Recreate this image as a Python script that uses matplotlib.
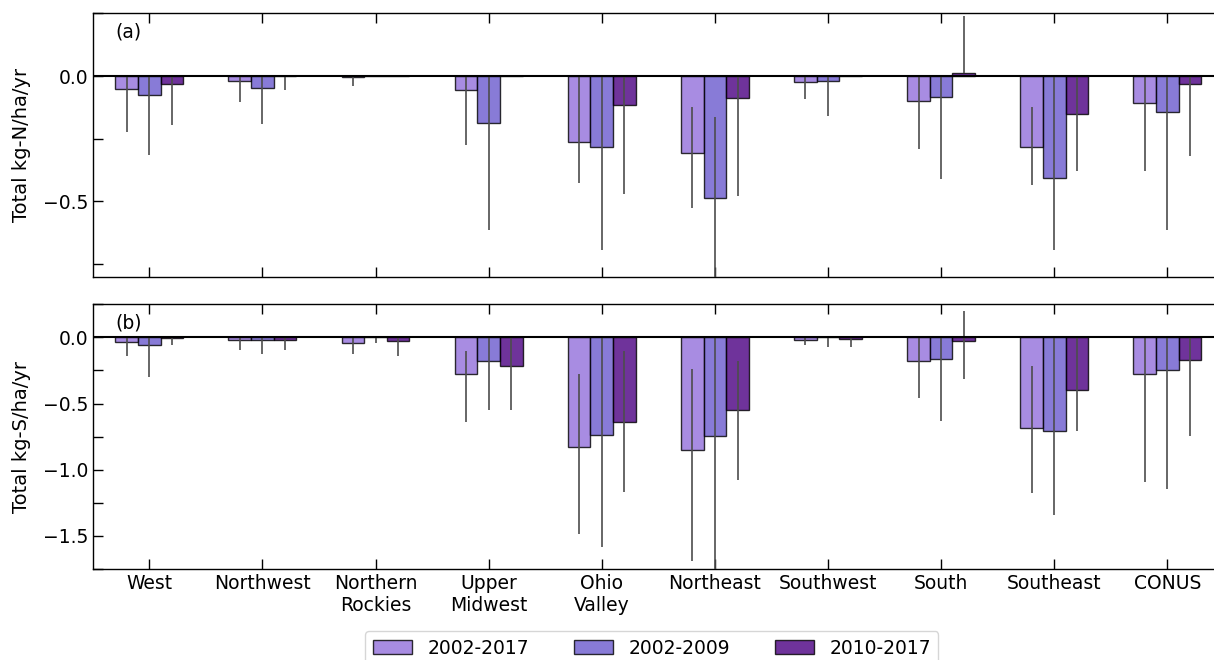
import numpy as np
import matplotlib
matplotlib.use("Agg")
import matplotlib.pyplot as plt
from matplotlib.ticker import MultipleLocator

plt.rcParams["font.family"] = "DejaVu Sans"
plt.rcParams["font.size"] = 13.5

regions = ['West', 'Northwest', 'Northern\nRockies', 'Upper\nMidwest', 'Ohio\nValley',
           'Northeast', 'Southwest', 'South', 'Southeast', 'CONUS']
periods = ['2002-2017', '2002-2009', '2010-2017']

# panel (a): nitrogen trends, bar value + low/high end of the range line
n_all = [-0.053, -0.021, -0.005, -0.057, -0.264, -0.307, -0.025, -0.100, -0.282, -0.108]
n_early = [-0.074, -0.048, 0.0, -0.189, -0.281, -0.487, -0.020, -0.084, -0.406, -0.144]
n_late = [-0.032, 0.0, 0.0, 0.0, -0.116, -0.086, 0.0, 0.013, -0.150, -0.032]
n_all_lo = [-0.224, -0.103, -0.041, -0.274, -0.428, -0.525, -0.092, -0.292, -0.435, -0.380]
n_early_lo = [-0.315, -0.193, 0.0, -0.612, -0.695, -0.850, -0.160, -0.410, -0.695, -0.612]
n_late_lo = [-0.197, -0.057, 0.0, 0.0, -0.472, -0.480, 0.0, 0.013, -0.380, -0.320]
n_all_hi = [0, 0, 0, 0, 0, -0.124, 0, 0, -0.124, 0]
n_early_hi = [0, 0, 0, 0, 0, -0.162, 0, 0, 0, 0]
n_late_hi = [0, 0, 0, 0, 0, 0, 0, 0.24, 0, 0]

# panel (b): sulfur trends
s_all = [-0.033, -0.020, -0.040, -0.279, -0.827, -0.852, -0.020, -0.181, -0.681, -0.279]
s_early = [-0.055, -0.020, 0.0, -0.178, -0.734, -0.747, 0.0, -0.166, -0.709, -0.249]
s_late = [-0.005, -0.020, -0.028, -0.214, -0.641, -0.545, -0.013, -0.030, -0.397, -0.171]
s_all_lo = [-0.141, -0.096, -0.123, -0.636, -1.486, -1.687, -0.058, -0.460, -1.176, -1.093]
s_early_lo = [-0.299, -0.123, -0.040, -0.545, -1.581, -1.800, -0.070, -0.633, -1.342, -1.144]
s_late_lo = [-0.058, -0.096, -0.141, -0.545, -1.171, -1.076, -0.070, -0.314, -0.709, -0.742]
s_all_hi = [0, 0, 0, -0.10, -0.279, -0.236, 0, 0, -0.214, 0]
s_early_hi = [0, 0, 0, 0, 0, 0, 0, 0, 0, 0]
s_late_hi = [0, 0, 0, 0, -0.103, -0.178, 0, 0.196, 0, 0]

colors = ['mediumpurple', 'slateblue', 'indigo']
x = np.arange(len(regions))
width = 0.2

fig = plt.figure(figsize=(12.14, 6.6), dpi=100)
ax_a = fig.add_axes([0.0764, 0.5808, 0.9318, 0.3990])
ax_b = fig.add_axes([0.0764, 0.1379, 0.9318, 0.4010])


def draw_panel(ax, vals, los, his, ylim, ylabel, tag):
    for i, (v, lo, hi) in enumerate(zip(vals, los, his)):
        v = np.array(v)
        err = [v - np.array(lo), np.array(hi) - v]
        ax.bar(x + (i - 1) * width, v, width, color=colors[i], alpha=0.8,
               edgecolor='black', linewidth=1.0, label=periods[i], zorder=2)
        ax.errorbar(x + (i - 1) * width, v, yerr=err, fmt='none', ecolor='0.3',
                    elinewidth=1.2, capsize=0, zorder=3)
    ax.axhline(0, color='black', linewidth=1.5, zorder=4)
    ax.set_xlim(-0.5, 9.5)
    ax.set_ylim(*ylim)
    ax.set_xticks(x)
    ax.yaxis.set_major_locator(MultipleLocator(0.5))
    ax.yaxis.set_minor_locator(MultipleLocator(0.25))
    ax.tick_params(which='both', direction='in', top=True, right=True, length=7.5, width=1.0)
    ax.set_ylabel(ylabel, fontsize=14)
    ax.text(0.02, 0.93, tag, transform=ax.transAxes, va='center', ha='left')
    for s in ax.spines.values():
        s.set_linewidth(1.0)


draw_panel(ax_a, [n_all, n_early, n_late], [n_all_lo, n_early_lo, n_late_lo],
           [n_all_hi, n_early_hi, n_late_hi], (-0.8, 0.25), 'Total kg-N/ha/yr', '(a)')
draw_panel(ax_b, [s_all, s_early, s_late], [s_all_lo, s_early_lo, s_late_lo],
           [s_all_hi, s_early_hi, s_late_hi], (-1.75, 0.25), 'Total kg-S/ha/yr', '(b)')

ax_a.set_xticklabels([])
ax_b.set_xticklabels(regions)
ax_a.yaxis.set_label_coords(-0.055, 0.5)
ax_b.yaxis.set_label_coords(-0.055, 0.5)

handles, labels = ax_b.get_legend_handles_labels()
fig.legend(handles, labels, loc='upper center', bbox_to_anchor=(0.537, 0.058),
           ncol=3, columnspacing=2.4, handlelength=2.1, frameon=True)

fig.savefig('out.png', dpi=100)
